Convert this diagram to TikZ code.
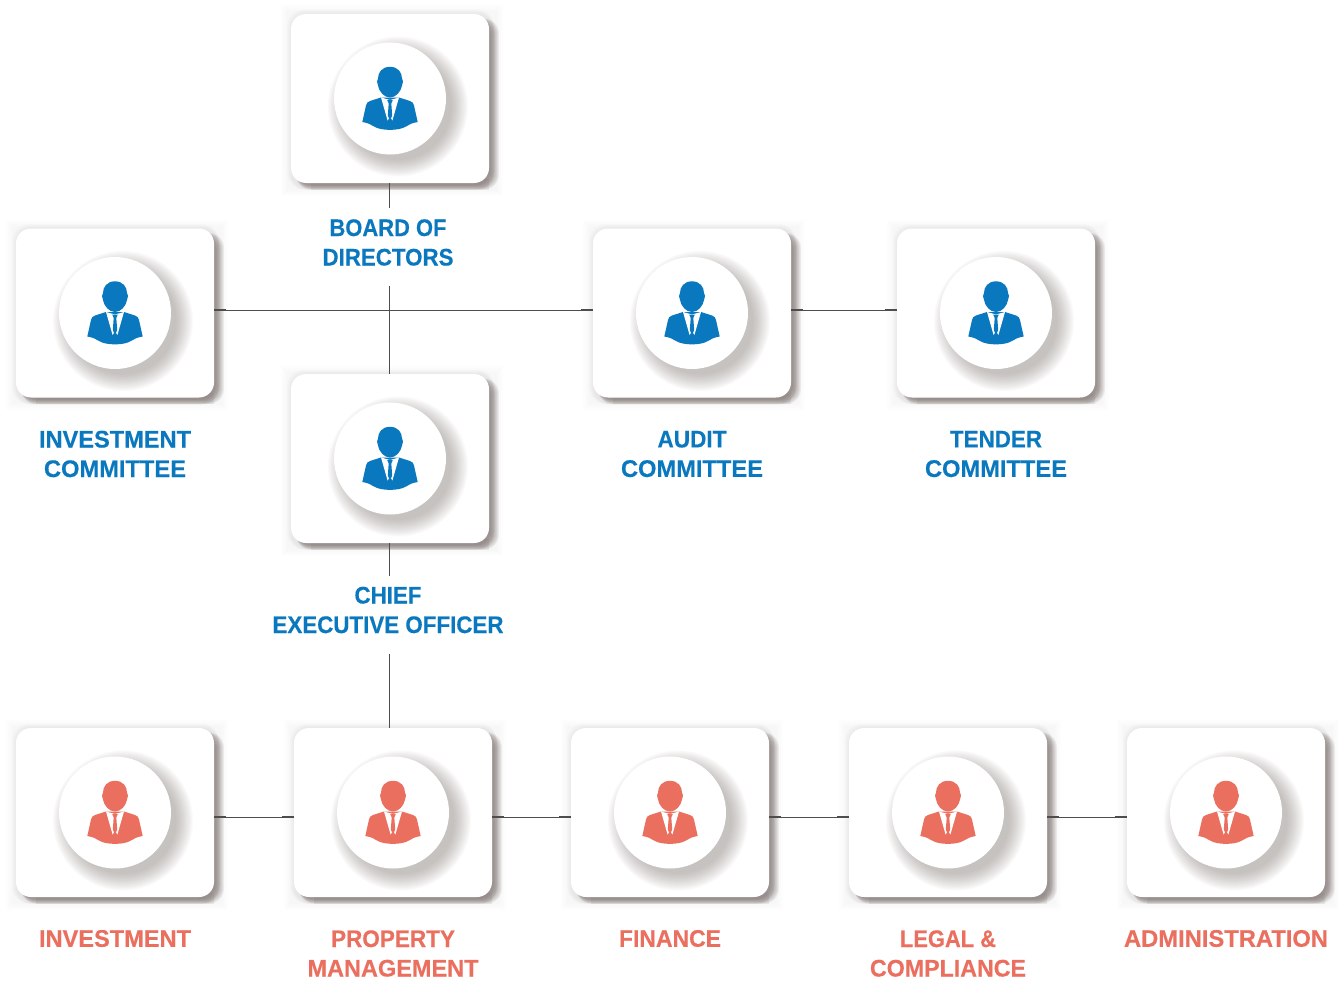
\documentclass[tikz,border=0pt]{standalone}
\usepackage{graphicx}
\usepackage{fontspec}
\setmainfont{Liberation Sans}[BoldFeatures={FakeBold=0.35}]
\usetikzlibrary{calc}
\definecolor{bluec}{HTML}{0A78BE}
\definecolor{redc}{HTML}{EB6F5F}
\definecolor{linec}{HTML}{4D4D4D}
\definecolor{shadec}{HTML}{6E6460}
\tikzset{
  x=1pt,y=-1pt,
  cardbox/.style={rectangle,rounded corners=15pt,fill=white,inner sep=0pt,outer sep=0pt,minimum width=198pt,minimum height=169pt},
  discnode/.style={circle,fill=white,inner sep=0pt,outer sep=0pt,minimum size=112pt},
  lab/.style={align=center,font=\bfseries\fontsize{24}{29.5}\selectfont,inner xsep=0pt,inner ysep=11pt,outer sep=0pt},
  bluelab/.style={lab,text=bluec},
  redlab/.style={lab,text=redc},
  conn/.style={draw=linec,line width=0.9pt},
  stub/.style={draw=linec,line width=1.5pt},
}
\newcommand{\wl}[2]{\resizebox{#1pt}{\height}{#2}}
\newcommand{\link}[2]{%
  \draw[conn] (#1) -- (#2);
  \draw[stub] (#1) -- ($(#1)!12pt!(#2)$);
  \draw[stub] (#2) -- ($(#2)!12pt!(#1)$);
}
\newcommand{\linkfrom}[2]{%
  \draw[conn] (#1) -- (#2);
  \draw[stub] (#1) -- ($(#1)!12pt!(#2)$);
}
\newcommand{\persona}[2]{% name, colour
  \begin{scope}[shift={(#1)}]
    \fill[#2] (0,-31.7) .. controls (-8,-31.7) and (-12,-26) .. (-12,-20)
      -- (-13,-17) -- (-12,-13) .. controls (-11,-7) and (-6,-1) .. (0,-1)
      .. controls (6,-1) and (11,-7) .. (12,-13) -- (13,-17) -- (12,-20)
      .. controls (12,-26) and (8,-31.7) .. (0,-31.7) -- cycle;
    \fill[#2] (-9,-1) -- (-20,2.5) .. controls (-23,3.5) and (-23,4.5) .. (-24,7)
      -- (-27.7,23.5) .. controls (-22,24.5) and (-19,26) .. (-16,28)
      .. controls (-9,32.5) and (9,32.5) .. (16,28)
      .. controls (19,26) and (22,24.5) .. (27.7,23.5) -- (24,7)
      .. controls (23,4.5) and (23,3.5) .. (20,2.5) -- (9,-1) -- cycle;
    \fill[white] (-9,-1) -- (-2.4,22) -- (0,18) -- (2.4,22) -- (9,-1) -- (0,1.5) -- cycle;
    \fill[#2] (-2.8,1.5) -- (2.8,1.5) -- (1.3,5) -- (2.2,17) -- (0,22) -- (-2.2,17) -- (-1.3,5) -- cycle;
  \end{scope}
}
% name, centre x, centre y, colour
\newcommand{\card}[4]{%
  % faint halo
  \foreach \k in {0,...,3}{%
    \fill[shadec,opacity=0.010] (#2-109+\k*2,#3-93+\k*2) rectangle (#2+113-\k*2,#3+97-\k*2);
  }
  % soft band on the top and left
  \foreach \k in {0,...,5}{%
    \fill[shadec,opacity=0.016,rounded corners=17pt]
      (#2-103+\k,#3-89+\k) rectangle (#2+104,#3+91);
  }
  % edge band below the card
  \fill[shadec,opacity=0.10] (#2-79,#3+80) rectangle (#2+99,#3+91);
  % main shadow, right and below
  \foreach \k in {0,...,9}{%
    \fill[shadec,opacity=0.085,rounded corners=15pt]
      (#2-94,#3-80+\k*0.3) rectangle (#2+109-\k*0.9,#3+91-\k*0.5);
  }
  \node[cardbox] (#1) at (#2,#3) {};
  \foreach \k in {0,...,15}{%
    \fill[shadec,opacity=0.026] (#2+8,#3+8) circle[radius=70-\k*1.1];
  }
  \node[discnode] (#1-c) at (#2,#3) {};
  \persona{#1-c}{#4}
}
\begin{document}
\begin{tikzpicture}
\useasboundingbox (0,0) rectangle (1339,982);
\fill[white] (0,0) rectangle (1339,982);

% cards
\card{board}{390}{98.5}{bluec}
\card{icom}{115}{313}{bluec}
\card{acom}{692}{313}{bluec}
\card{tcom}{996}{313}{bluec}
\card{ceo}{390}{458.5}{bluec}
\card{inv}{115}{812.5}{redc}
\card{prop}{393}{812.5}{redc}
\card{fin}{670}{812.5}{redc}
\card{leg}{948}{812.5}{redc}
\card{adm}{1226}{812.5}{redc}

% labels
\node[bluelab] (boardl) at (388,242.5) {\wl{117}{BOARD OF}\\\wl{131}{DIRECTORS}};
\node[bluelab] (icoml) at (115,454) {\wl{152}{INVESTMENT}\\\wl{142}{COMMITTEE}};
\node[bluelab] (acoml) at (692,454) {\wl{69}{AUDIT}\\\wl{142}{COMMITTEE}};
\node[bluelab] (tcoml) at (996,454) {\wl{92}{TENDER}\\\wl{142}{COMMITTEE}};
\node[bluelab] (ceol) at (388,610) {\wl{67}{CHIEF}\\\wl{231}{EXECUTIVE OFFICER}};
\node[redlab] (invl) at (115,938.5) {\wl{152}{INVESTMENT}};
\node[redlab] (propl) at (393,953.5) {\wl{124}{PROPERTY}\\\wl{171}{MANAGEMENT}};
\node[redlab] (finl) at (670,938.5) {\wl{102}{FINANCE}};
\node[redlab] (legl) at (948,953.5) {\wl{96}{LEGAL \&}\\\wl{156}{COMPLIANCE}};
\node[redlab] (adml) at (1226,938.5) {\wl{204}{ADMINISTRATION}};

% connector levels and free ends
\coordinate (upper) at (389.5,310);
\coordinate (lower) at (389.5,817);
\coordinate (a1) at (upper |- board.south);
\coordinate (a2) at (upper |- boardl.north);
\coordinate (b1) at ($(upper |- boardl.south)+(0,9)$);
\coordinate (b2) at (upper |- ceo.north);
\coordinate (c1) at (upper |- ceo.south);
\coordinate (c2) at (upper |- ceol.north);
\coordinate (d1) at ($(upper |- ceol.south)+(0,9.5)$);
\coordinate (d2) at (upper |- prop.north);

% connectors
\linkfrom{a1}{a2}
\linkfrom{b2}{b1}
\linkfrom{c1}{c2}
\linkfrom{d2}{d1}
\link{icom.east |- upper}{acom.west |- upper}
\link{acom.east |- upper}{tcom.west |- upper}
\link{inv.east |- lower}{prop.west |- lower}
\link{prop.east |- lower}{fin.west |- lower}
\link{fin.east |- lower}{leg.west |- lower}
\link{leg.east |- lower}{adm.west |- lower}
\end{tikzpicture}
\end{document}
